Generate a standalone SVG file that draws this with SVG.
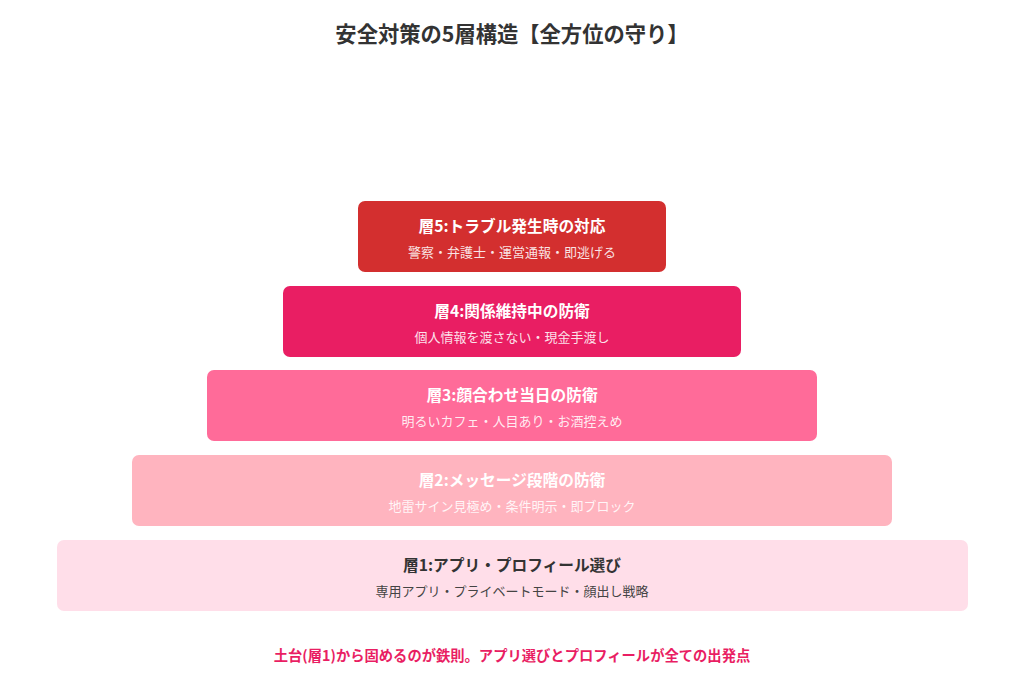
<svg xmlns="http://www.w3.org/2000/svg" width="1024" height="695" viewBox="0 0 1024 695">
<style>
text{font-family:"Noto Sans CJK JP","Noto Sans",sans-serif;text-anchor:middle}
.title{font-size:21.3px;font-weight:bold;fill:#333}
.lt{font-size:15.7px;font-weight:bold;fill:#fff}
.ls{font-size:13px;fill:#fff;fill-opacity:0.88}
.dt{font-size:15.7px;font-weight:bold;fill:#333}
.ds{font-size:13px;fill:#444}
.foot{font-size:14.3px;font-weight:bold;fill:#E91E63}
</style>
<rect width="1024" height="695" fill="#fff"/>
<text class="title" x="512" y="42">安全対策の5層構造【全方位の守り】</text>
<g id="layer5">
<rect x="358" y="201" width="308" height="71" rx="7" fill="#D32F2F"/>
<text class="lt" x="512" y="232">層5:トラブル発生時の対応</text>
<text class="ls" x="512" y="257">警察・弁護士・運営通報・即逃げる</text>
</g>
<g id="layer4">
<rect x="283" y="286" width="458" height="71" rx="7" fill="#E91E63"/>
<text class="lt" x="512" y="317">層4:関係維持中の防衛</text>
<text class="ls" x="512" y="342">個人情報を渡さない・現金手渡し</text>
</g>
<g id="layer3">
<rect x="207" y="370" width="610" height="71" rx="7" fill="#FF6B99"/>
<text class="lt" x="512" y="401">層3:顔合わせ当日の防衛</text>
<text class="ls" x="512" y="426">明るいカフェ・人目あり・お酒控えめ</text>
</g>
<g id="layer2">
<rect x="132" y="455" width="760" height="71" rx="7" fill="#FFB4BF"/>
<text class="lt" x="512" y="486">層2:メッセージ段階の防衛</text>
<text class="ls" x="512" y="511">地雷サイン見極め・条件明示・即ブロック</text>
</g>
<g id="layer1">
<rect x="57" y="540" width="911" height="71" rx="7" fill="#FFDEE9"/>
<text class="dt" x="512" y="571">層1:アプリ・プロフィール選び</text>
<text class="ds" x="512" y="596">専用アプリ・プライベートモード・顔出し戦略</text>
</g>
<g id="connectors"></g>
<text class="foot" x="512" y="661">土台(層1)から固めるのが鉄則。アプリ選びとプロフィールが全ての出発点</text>
</svg>
